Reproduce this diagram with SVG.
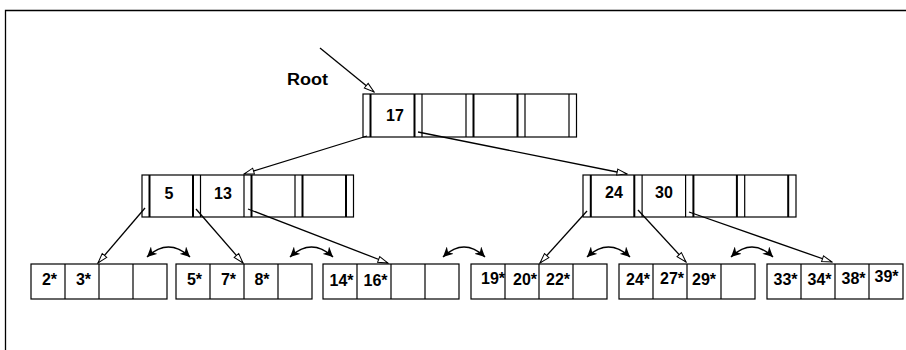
<svg xmlns="http://www.w3.org/2000/svg" width="906" height="350" viewBox="0 0 906 350">
<defs>
<marker id="hollow" markerUnits="userSpaceOnUse" markerWidth="12" markerHeight="9" refX="11" refY="4" orient="auto">
<path d="M1,1 L11,4 L1,7 z" fill="#fff" stroke="#000" stroke-width="1"/>
</marker>
<marker id="solid" markerUnits="userSpaceOnUse" markerWidth="12" markerHeight="10" refX="10" refY="5" orient="auto-start-reverse">
<path d="M0,0 L10,5 L0,10 L3,5 z" fill="#000"/>
</marker>
<style>
.box{fill:#fff;stroke:#000;stroke-width:1.2}
.sep{stroke:#000;stroke-width:1.2}
.thk{stroke:#000;stroke-width:2}
.key{font-family:"Liberation Sans",Arial,sans-serif;font-weight:bold;font-size:16px;text-anchor:middle;fill:#000}
.arr{fill:none;stroke:#000;stroke-width:1.3;marker-end:url(#hollow)}
.dbl{fill:none;stroke:#000;stroke-width:1.5;marker-start:url(#solid);marker-end:url(#solid)}
</style>
</defs>
<rect width="906" height="350" fill="#fff"/>
<path d="M5.5,350 V10.5 H906" fill="none" stroke="#000" stroke-width="1.3"/>

<g id="root-label">
<text x="287" y="85" class="key" style="text-anchor:start" textLength="41" lengthAdjust="spacingAndGlyphs">Root</text>
</g>

<g id="root">
<rect class="box" x="363" y="94" width="213.5" height="43"/>
<line class="thk" x1="370.5" y1="94" x2="370.5" y2="137"/>
<line class="thk" x1="414.5" y1="94" x2="414.5" y2="137"/>
<line class="sep" x1="422" y1="94" x2="422" y2="137"/>
<line class="sep" x1="466" y1="94" x2="466" y2="137"/>
<line class="thk" x1="473.5" y1="94" x2="473.5" y2="137"/>
<line class="thk" x1="517.5" y1="94" x2="517.5" y2="137"/>
<line class="sep" x1="525" y1="94" x2="525" y2="137"/>
<line class="sep" x1="569" y1="94" x2="569" y2="137"/>
<text class="key" x="395" y="121">17</text>
</g>

<g id="inner-left">
<rect class="box" x="142" y="175" width="211.5" height="42"/>
<line class="thk" x1="149.5" y1="175" x2="149.5" y2="217"/>
<line class="thk" x1="193" y1="175" x2="193" y2="217"/>
<line class="sep" x1="200.5" y1="175" x2="200.5" y2="217"/>
<line class="sep" x1="244" y1="175" x2="244" y2="217"/>
<line class="thk" x1="251.5" y1="175" x2="251.5" y2="217"/>
<line class="sep" x1="295" y1="175" x2="295" y2="217"/>
<line class="thk" x1="302.5" y1="175" x2="302.5" y2="217"/>
<line class="thk" x1="346" y1="175" x2="346" y2="217"/>
<text class="key" x="169" y="199">5</text>
<text class="key" x="223" y="199">13</text>
</g>

<g id="inner-right">
<rect class="box" x="583" y="175" width="213" height="42"/>
<line class="thk" x1="590.8" y1="175" x2="590.8" y2="217"/>
<line class="thk" x1="634.3" y1="175" x2="634.3" y2="217"/>
<line class="sep" x1="642.1" y1="175" x2="642.1" y2="217"/>
<line class="sep" x1="685.6" y1="175" x2="685.6" y2="217"/>
<line class="thk" x1="693.4" y1="175" x2="693.4" y2="217"/>
<line class="thk" x1="736.9" y1="175" x2="736.9" y2="217"/>
<line class="sep" x1="744.7" y1="175" x2="744.7" y2="217"/>
<line class="thk" x1="788.2" y1="175" x2="788.2" y2="217"/>
<text class="key" x="614" y="198">24</text>
<text class="key" x="664" y="198">30</text>
</g>

<g id="leaf1">
<rect class="box" x="31" y="264" width="136" height="35"/>
<line class="sep" x1="65" y1="264" x2="65" y2="299"/>
<line class="sep" x1="99" y1="264" x2="99" y2="299"/>
<line class="sep" x1="133" y1="264" x2="133" y2="299"/>
<text class="key" x="49.5" y="285">2*</text>
<text class="key" x="83.5" y="285">3*</text>
</g>

<g id="leaf2">
<rect class="box" x="176" y="264" width="136" height="35"/>
<line class="sep" x1="210" y1="264" x2="210" y2="299"/>
<line class="sep" x1="244" y1="264" x2="244" y2="299"/>
<line class="sep" x1="278" y1="264" x2="278" y2="299"/>
<text class="key" x="194.5" y="285">5*</text>
<text class="key" x="228.5" y="285">7*</text>
<text class="key" x="262" y="285">8*</text>
</g>

<g id="leaf3">
<rect class="box" x="323" y="264" width="136" height="35"/>
<line class="sep" x1="357" y1="264" x2="357" y2="299"/>
<line class="sep" x1="391" y1="264" x2="391" y2="299"/>
<line class="sep" x1="425" y1="264" x2="425" y2="299"/>
<text class="key" x="341.5" y="286">14*</text>
<text class="key" x="375.5" y="286">16*</text>
</g>

<g id="leaf4">
<rect class="box" x="471" y="264" width="136" height="35"/>
<line class="sep" x1="505" y1="264" x2="505" y2="299"/>
<line class="sep" x1="539" y1="264" x2="539" y2="299"/>
<line class="sep" x1="573" y1="264" x2="573" y2="299"/>
<text class="key" x="493" y="284">19*</text>
<text class="key" x="525" y="285">20*</text>
<text class="key" x="558" y="285">22*</text>
</g>

<g id="leaf5">
<rect class="box" x="619" y="264" width="136" height="35"/>
<line class="sep" x1="653" y1="264" x2="653" y2="299"/>
<line class="sep" x1="687" y1="264" x2="687" y2="299"/>
<line class="sep" x1="721" y1="264" x2="721" y2="299"/>
<text class="key" x="638" y="285">24*</text>
<text class="key" x="672" y="284">27*</text>
<text class="key" x="704" y="285">29*</text>
</g>

<g id="leaf6">
<rect class="box" x="767" y="264" width="136" height="35"/>
<line class="sep" x1="801" y1="264" x2="801" y2="299"/>
<line class="sep" x1="835" y1="264" x2="835" y2="299"/>
<line class="sep" x1="869" y1="264" x2="869" y2="299"/>
<text class="key" x="785.5" y="285">33*</text>
<text class="key" x="819.5" y="285">34*</text>
<text class="key" x="853.5" y="284">38*</text>
<text class="key" x="886.5" y="282">39*</text>
</g>

<g id="connectors">
<line class="arr" x1="320" y1="48" x2="374" y2="92"/>
<line class="arr" x1="367" y1="136" x2="244" y2="174"/>
<line class="arr" x1="418" y1="132" x2="627" y2="174"/>
<line class="arr" x1="145" y1="208" x2="98" y2="263"/>
<line class="arr" x1="196" y1="209" x2="243" y2="263"/>
<line class="arr" x1="248" y1="209" x2="388" y2="263"/>
<line class="arr" x1="587" y1="211" x2="540" y2="263"/>
<line class="arr" x1="638" y1="210" x2="686" y2="262"/>
<line class="arr" x1="689" y1="212" x2="832" y2="262"/>
<path class="dbl" d="M147,257 Q168.5,237 190,257"/>
<path class="dbl" d="M290,257 Q311.5,237 333,257"/>
<path class="dbl" d="M443,257 Q464,237 485,257"/>
<path class="dbl" d="M587,257 Q608.5,237 630,257"/>
<path class="dbl" d="M731,257 Q752,237 773,257"/>
</g>
</svg>
